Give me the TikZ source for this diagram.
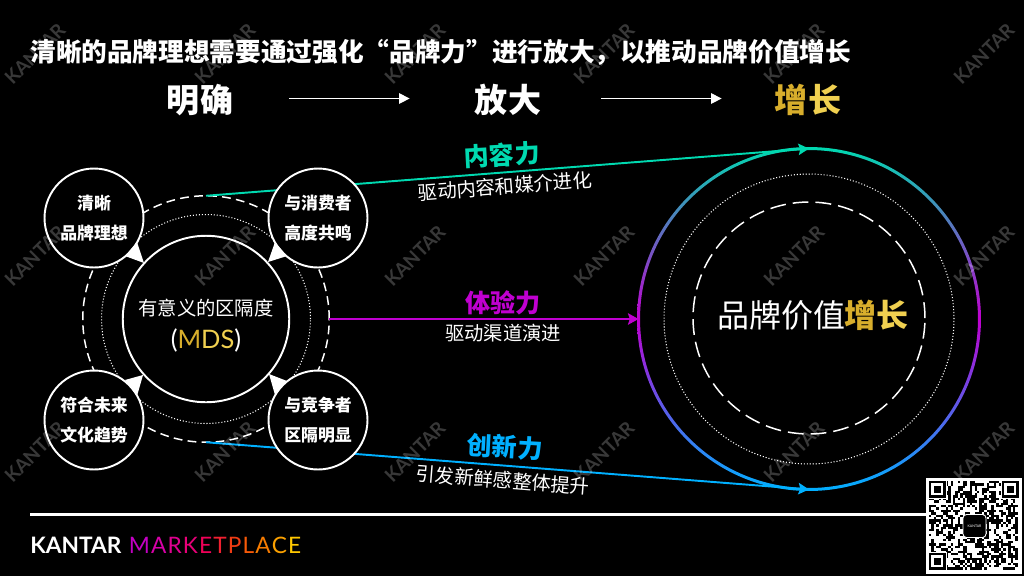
\documentclass[tikz,border=0pt]{standalone}
\usepackage{fontspec}
\setmainfont{Noto Sans CJK SC}
\newfontfamily\latinfont{Lato}
\usetikzlibrary{arrows.meta}
\definecolor{goldA}{HTML}{D8AE2C}
\definecolor{goldB}{HTML}{F0D050}
\definecolor{contentc}{HTML}{00D9B0}
\definecolor{experiencec}{HTML}{C000D0}
\definecolor{innovatec}{HTML}{00B0FF}
\newcommand{\brandletter}[2]{\textcolor[HTML]{#1}{#2}\kern0.65pt}
\tikzset{
headline/.style={text=white, font=\fontsize{14.6}{18}\selectfont\bfseries, anchor=west, inner sep=0pt}, % the title line
stage/.style={text=white, font=\fontsize{18.8}{22}\selectfont\bfseries, inner sep=0pt}, % the three words below it
stagearrow/.style={white, line width=0.6pt, -{Triangle[length=6pt,width=6pt]}},
pillar/.style={circle, draw=white, line width=1.1pt, fill=black, minimum size=1.98cm, inner sep=0pt, outer sep=0pt, text=white, align=center, font=\fontsize{9.6}{17}\selectfont\bfseries},
dashring/.style={circle, draw=white, line width=0.85pt, dash pattern=on 5pt off 3pt, inner sep=0pt, outer sep=0pt},
dotring/.style={circle, draw=white, line width=0.6pt, dash pattern=on 0.6pt off 1.1pt, inner sep=0pt, outer sep=0pt},
force/.style={line width=1.1pt, -{Stealth[length=6pt,width=6.5pt,inset=1pt]}},
forcename/.style={font=\fontsize{14.3}{17}\selectfont\bfseries, inner sep=0pt},
forcenote/.style={text=white, font=\fontsize{11}{13}\selectfont, inner sep=0pt},
watermark/.style={text=white, text opacity=0.22, rotate=45, font=\latinfont\fontsize{10.8}{12}\selectfont\bfseries, inner sep=0pt},
}

\begin{document}
\begin{tikzpicture}[x=0.02cm, y=-0.02cm]
    \fill[black] (0,0) rectangle (1024,576);
    \useasboundingbox (0,0) rectangle (1024,576);

    % header
    \node[headline] (title) at (30,52) {清晰的品牌理想需要通过强化“品牌力”进行放大，以推动品牌价值增长};
    \node[stage] (clear) at (200,100) {明确};
    \node[stage] (amplify) at (508,100) {放大};
    \node[stage] (grow) at (808,100) {\textcolor{goldA}{增}\textcolor{goldB}{长}};
    \draw[stagearrow, shorten <=1.12cm, shorten >=1.3cm] ([yshift=0.03cm]clear.east) -- ([yshift=0.03cm]amplify.west);
    \draw[stagearrow, shorten <=1.2cm, shorten >=1.06cm] ([yshift=0.03cm]amplify.east) -- ([yshift=0.03cm]grow.west);

    % right circle
    \node[circle, minimum size=6.82cm, inner sep=0pt, outer sep=0pt] (ring) at (809,319) {};
    \shade[even odd rule, top color=contentc, bottom color=innovatec, middle color=experiencec]
        (ring.center) circle (3.44cm) (ring.center) circle (3.38cm);
    \node[dotring, minimum size=5.8cm] (ringdot) at (809,319) {};
    \node[dashring, minimum size=4.64cm, dash pattern=on 9pt off 4pt] (ringdash) at (809,318) {};
    \node[text=white, inner sep=0pt, font=\fontsize{18.2}{22}\selectfont] (value) at (813,315) {品牌价值\textcolor{goldA}{\bfseries 增}\textcolor{goldB}{\bfseries 长}};

    % left rings
    \node[dashring, minimum size=4.93cm] (mdsdash) at (206,319) {};
    \node[dotring, minimum size=4.18cm] (mdsdot) at (206,319) {};

    % forces
    \draw[force, contentc] (mdsdash.north) -- (ring.north);
    \draw[force, experiencec] (mdsdash.east) -- (ring.west);
    \draw[force, innovatec] (mdsdash.south) -- (ring.south);

    \node[forcename, text=contentc, rotate=3] (content) at (502,155) {内容力};
    \node[forcenote, rotate=4.5] (contentnote) at (505,186) {驱动内容和媒介进化};
    \node[forcename, text=experiencec] (experience) at (503,303) {体验力};
    \node[forcenote] (experiencenote) at (503,333) {驱动渠道演进};
    \node[forcename, text=innovatec, rotate=-3] (innovate) at (505,447) {创新力};
    \node[forcenote, rotate=-4.5] (innovatenote) at (503,480) {引发新鲜感整体提升};

    % centre and four pillars
    \node[pillar, minimum size=3.33cm] (mds) at (206,319) {};
    \node[text=white, align=center, inner sep=0pt, font=\fontsize{11}{18.8}\selectfont] (mdstext) at (206,326)
        {有意义的区隔度\\{\latinfont\fontsize{14.5}{18.8}\selectfont (\textcolor{goldA}{M}\textcolor{goldB}{DS})}};
    \node[pillar] (clarity) at (94,218) {清晰\\品牌理想};
    \node[pillar] (resonate) at (318,218) {与消费者\\高度共鸣};
    \node[pillar] (future) at (94,420) {符合未来\\文化趋势};
    \node[pillar] (differ) at (318,420) {与竞争者\\区隔明显};

    \foreach \tipx/\tipy/\ax/\ay/\bx/\by in {
        144/263/125/256/137/242,
        268/262/287/256/275/242,
        143/375/125/380/137/396,
        269/374/287/381/275/395}
        \fill[white] (\tipx,\tipy) -- (\ax,\ay) -- (\bx,\by) -- cycle;

    % footer
    \coordinate (rulestart) at (30,514);
    \node[fill=white, minimum size=1.92cm, inner sep=0pt, outer sep=0pt] (qrcode) at (973.5,525.5) {};
    \draw[white, line width=1.7pt] (rulestart) -- (qrcode.west |- rulestart);
    \pgfmathsetseed{2024}
    \foreach \i in {0,...,36}
        \foreach \j in {0,...,36} {
            \pgfmathparse{rnd>0.5 ? 1 : 0}
            \ifnum\pgfmathresult=1
                \fill[black] (929+\i*2.4,481+\j*2.4) rectangle +(2.4,2.4);
            \fi
        }
    \foreach \fx/\fy in {929/481, 1002/481, 929/553} {
        \fill[white] (\fx-1,\fy-1) rectangle +(19,19);
        \fill[black] (\fx,\fy) rectangle +(16.8,16.8);
        \fill[white] (\fx+2.4,\fy+2.4) rectangle +(12,12);
        \fill[black] (\fx+4.8,\fy+4.8) rectangle +(7.2,7.2);
    }
    \node[fill=black, draw=white, line width=0.5pt, rounded corners=2pt, minimum size=0.46cm, inner sep=0pt, text=white, font=\latinfont\fontsize{2}{2}\selectfont] (qrlogo) at (974.5,526) {KANTAR};

    \node[anchor=west, inner sep=0pt, font=\latinfont\fontsize{12.9}{15}\selectfont] (brand) at (30,545)
        {\textcolor{white}{\bfseries KANTAR}\kern1pt\ \brandletter{C400C4}{M}\brandletter{D800A8}{A}\brandletter{E00090}{R}\brandletter{E80078}{K}\brandletter{F00058}{E}\brandletter{F02030}{T}\brandletter{F03C14}{P}\brandletter{F85A08}{L}\brandletter{F87C00}{A}\brandletter{FAA000}{C}\brandletter{FFC800}{E}};

    % watermarks on top of everything
    \foreach \markx [count=\c] in {35,225,415,604,794,984}
        \foreach \marky [count=\r] in {54,256,452}
            \node[watermark] (mark\c\r) at (\markx,\marky) {KANTAR};
\end{tikzpicture}
\end{document}
